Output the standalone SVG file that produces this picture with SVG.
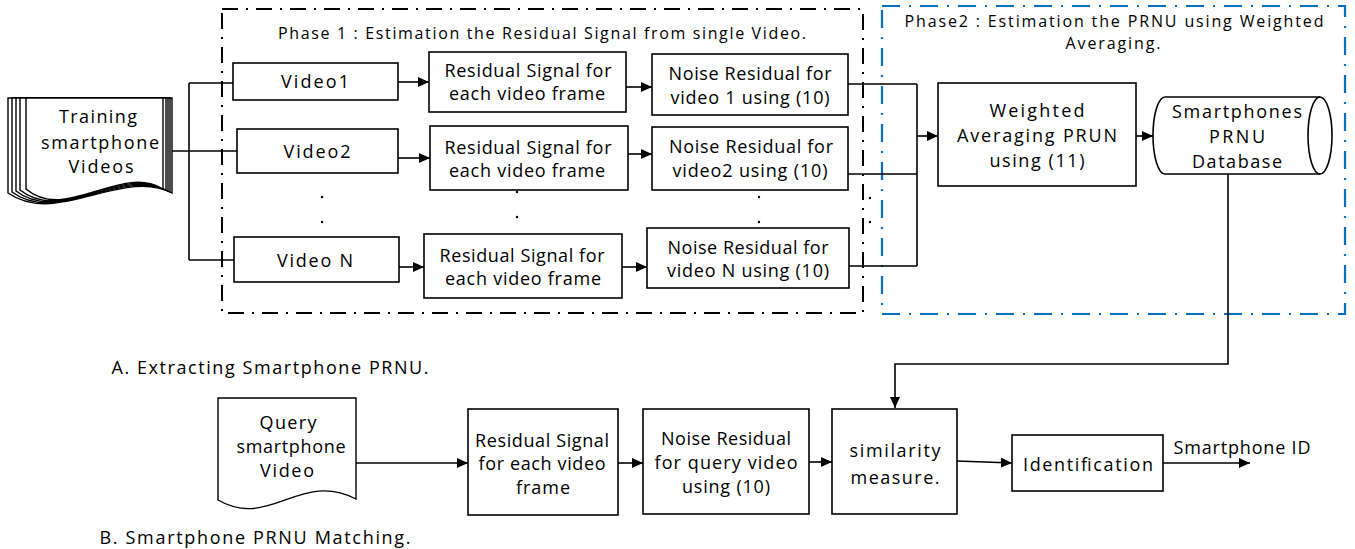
<svg xmlns="http://www.w3.org/2000/svg" width="1355" height="549" viewBox="0 0 1355 549">
<style>
.box{fill:#fff;stroke:#000;stroke-width:1.6}
.doc{fill:#fff;stroke:#000;stroke-width:1.4}
.t{font-family:"Open Sans","Liberation Sans",sans-serif;font-size:18px;fill:#000;text-anchor:middle;dominant-baseline:central}
.s{font-size:16px}
.c{fill:none;stroke:#000;stroke-width:1.6}
.dot{fill:#000}
</style>
<defs>
<marker id="ah" markerUnits="userSpaceOnUse" markerWidth="12" markerHeight="11" refX="11" refY="5" orient="auto">
<path d="M0,0 L11,5 L0,10 z" fill="#000"/>
</marker>
</defs>
<rect x="0" y="0" width="1355" height="549" fill="#fff"/>

<g id="phase1">
<rect x="222" y="9" width="641" height="304" fill="none" stroke="#000" stroke-width="2" stroke-dasharray="16 8 2 8"/>
<text class="t s" x="542" y="33" textLength="528">Phase 1 : Estimation the Residual Signal from single Video.</text>
</g>
<g id="phase2">
<rect x="882" y="6" width="463" height="308" fill="none" stroke="#0070C0" stroke-width="2.2" stroke-dasharray="18 9 2 9"/>
<text class="t s" x="1114" y="21" textLength="419">Phase2 : Estimation the PRNU using Weighted</text>
<text class="t s" x="1113" y="43" textLength="95">Averaging.</text>
</g>

<g id="connectors">
<path class="c" d="M172,151 H237"/>
<path class="c" d="M189,83 V260"/>
<path class="c" d="M189,83 H233"/>
<path class="c" d="M189,260 H234"/>
<path class="c" d="M398,82 H429" marker-end="url(#ah)"/>
<path class="c" d="M626,87 H652" marker-end="url(#ah)"/>
<path class="c" d="M398,158 H430" marker-end="url(#ah)"/>
<path class="c" d="M628,154 H652" marker-end="url(#ah)"/>
<path class="c" d="M399,267 H424" marker-end="url(#ah)"/>
<path class="c" d="M622,267 H647" marker-end="url(#ah)"/>
<path class="c" d="M848,84 H917 M848,174 H917 M849,266 H917 M917,84 V266"/>
<path class="c" d="M917,136 H938" stroke-width="3" marker-end="url(#ah)"/>
<path class="c" d="M1136,136 H1153" marker-end="url(#ah)"/>
<path class="c" d="M1228,174 V364 H895 V408" marker-end="url(#ah)"/>
<path class="c" d="M356,463 H468" marker-end="url(#ah)"/>
<path class="c" d="M618,463 H643" marker-end="url(#ah)"/>
<path class="c" d="M809,462 H832" marker-end="url(#ah)"/>
<path class="c" d="M957,461 L1012,463" marker-end="url(#ah)"/>
<path class="c" d="M1163,463 H1250" marker-end="url(#ah)"/>
</g>

<g id="dots">
<circle class="dot" cx="322" cy="197" r="1.2"/>
<circle class="dot" cx="322" cy="222" r="1.2"/>
<circle class="dot" cx="517" cy="192" r="1.2"/>
<circle class="dot" cx="517" cy="217" r="1.2"/>
<circle class="dot" cx="759" cy="197" r="1.2"/>
<circle class="dot" cx="759" cy="222" r="1.2"/>
<circle class="dot" cx="870" cy="198" r="1.2"/>
<circle class="dot" cx="870" cy="222" r="1.2"/>
</g>

<g id="training">
<path class="doc" d="M8,98 H172 V193 C123,167 57,227 8,193 Z"/>
<path class="doc" d="M12,98 H170 V192 C122,166 58,226 12,192 Z"/>
<path class="doc" d="M16,98 H168 V191 C122,165 60,225 16,191 Z"/>
<path class="doc" d="M20,98 H166 V190 C121,164 62,224 20,190 Z"/>
<path class="doc" d="M26,98 H163 V189 C121,163 66,223 26,189 Z"/>
<text class="t" x="98" y="116" textLength="78">Training</text>
<text class="t" x="100" y="142" textLength="118">smartphone</text>
<text class="t" x="101" y="166" textLength="65">Videos</text>
</g>

<g id="video1">
<rect class="box" x="233" y="63" width="165" height="37"/>
<text class="t" x="315" y="81" textLength="68">Video1</text>
</g>
<g id="res1">
<rect class="box" x="429" y="52" width="197" height="60"/>
<text class="t" x="528" y="70" textLength="167">Residual Signal for</text>
<text class="t" x="527" y="93" textLength="156">each video frame</text>
</g>
<g id="noise1">
<rect class="box" x="652" y="54" width="196" height="61"/>
<text class="t" x="750" y="73" textLength="163">Noise Residual for</text>
<text class="t" x="750" y="97" textLength="159">video 1 using (10)</text>
</g>

<g id="video2">
<rect class="box" x="237" y="129" width="161" height="44"/>
<text class="t" x="317" y="151" textLength="67">Video2</text>
</g>
<g id="res2">
<rect class="box" x="430" y="126" width="198" height="64"/>
<text class="t" x="528" y="147" textLength="167">Residual Signal for</text>
<text class="t" x="527" y="170" textLength="156">each video frame</text>
</g>
<g id="noise2">
<rect class="box" x="652" y="127" width="196" height="63"/>
<text class="t" x="751" y="146" textLength="164">Noise Residual for</text>
<text class="t" x="750" y="170" textLength="155">video2 using (10)</text>
</g>

<g id="videoN">
<rect class="box" x="234" y="237" width="165" height="45"/>
<text class="t" x="315" y="260" textLength="76">Video N</text>
</g>
<g id="resN">
<rect class="box" x="424" y="234" width="198" height="64"/>
<text class="t" x="522" y="255" textLength="165">Residual Signal for</text>
<text class="t" x="523" y="278" textLength="156">each video frame</text>
</g>
<g id="noiseN">
<rect class="box" x="647" y="228" width="202" height="60"/>
<text class="t" x="748" y="247" textLength="161">Noise Residual for</text>
<text class="t" x="748" y="270" textLength="162">video N using (10)</text>
</g>

<g id="weighted">
<rect class="box" x="938" y="83" width="198" height="103"/>
<text class="t" x="1037" y="110" textLength="95">Weighted</text>
<text class="t" x="1037" y="135" textLength="160">Averaging PRUN</text>
<text class="t" x="1037" y="160" textLength="95">using (11)</text>
</g>

<g id="database">
<path class="box" d="M1165,97 H1320 A12,38.5 0 0 1 1320,174 H1165 A12,38.5 0 0 1 1165,97 Z"/>
<path class="c" d="M1320,174 A12,38.5 0 0 1 1320,97"/>
<text class="t" x="1237" y="111" textLength="130">Smartphones</text>
<text class="t" x="1237" y="136" textLength="56">PRNU</text>
<text class="t" x="1237" y="161" textLength="90">Database</text>
</g>

<g id="labelA">
<text class="t" x="270" y="367" textLength="317">A. Extracting Smartphone PRNU.</text>
</g>
<g id="labelB">
<text class="t" x="255" y="537" textLength="311">B. Smartphone PRNU Matching.</text>
</g>

<g id="query">
<path class="doc" d="M218,398 H356 V499 C300,470 270,530 218,500 Z"/>
<text class="t" x="288" y="422" textLength="57">Query</text>
<text class="t" x="291" y="446" textLength="109">smartphone</text>
<text class="t" x="287" y="470" textLength="54">Video</text>
</g>
<g id="resQ">
<rect class="box" x="468" y="409" width="150" height="106"/>
<text class="t" x="542" y="440" textLength="134">Residual Signal</text>
<text class="t" x="542" y="463" textLength="127">for each video</text>
<text class="t" x="543" y="487" textLength="54">frame</text>
</g>
<g id="noiseQ">
<rect class="box" x="643" y="409" width="166" height="105"/>
<text class="t" x="726" y="438" textLength="130">Noise Residual</text>
<text class="t" x="726" y="462" textLength="143">for query video</text>
<text class="t" x="726" y="486" textLength="88">using (10)</text>
</g>
<g id="similarity">
<rect class="box" x="832" y="409" width="125" height="105"/>
<text class="t" x="895" y="450" textLength="91">similarity</text>
<text class="t" x="895" y="477" textLength="89">measure.</text>
</g>
<g id="identification">
<rect class="box" x="1012" y="435" width="151" height="56"/>
<text class="t" x="1088" y="464" textLength="130">Identification</text>
</g>
<g id="outlabel">
<text class="t" x="1242" y="447" textLength="137">Smartphone ID</text>
</g>
</svg>
